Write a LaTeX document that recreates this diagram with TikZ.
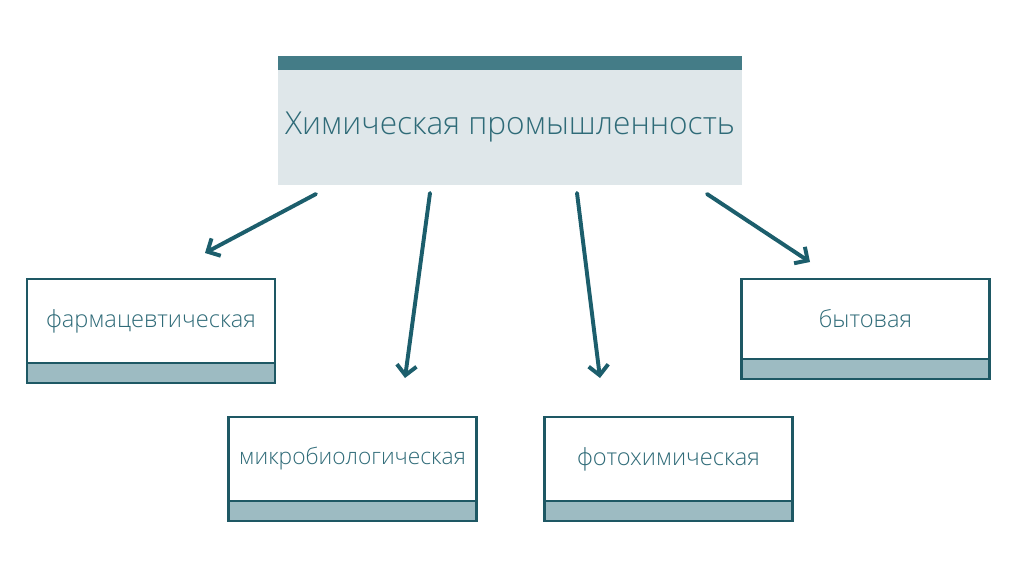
\documentclass[tikz,border=0pt]{standalone}
\usepackage{fontspec}
\setmainfont{Open Sans Light}
\usepackage{tikz}
\usetikzlibrary{arrows.meta,positioning}
\definecolor{HeadBar}{RGB}{68,124,135}
\definecolor{HeadFill}{RGB}{223,231,234}
\definecolor{BoxLine}{RGB}{30,88,100}
\definecolor{BarFill}{RGB}{157,187,194}
\definecolor{LabelTeal}{RGB}{47,107,120}
\definecolor{ArrowTeal}{RGB}{28,94,108}

\begin{document}
\begin{tikzpicture}[
    header/.style={rectangle, fill=HeadFill, minimum width=11.6cm,
                   minimum height=2.875cm, inner sep=0pt, outer sep=0pt, align=center,
                   font=\fontsize{22.5}{27}\selectfont, text=LabelTeal},
    headbar/.style={rectangle, fill=HeadBar, minimum width=11.6cm,
                    minimum height=0.35cm, inner sep=0pt, outer sep=0pt},
    branch/.style={rectangle, draw=BoxLine, fill=white, line width=1.6pt,
                   minimum width=6.2cm, minimum height=2.1cm, inner sep=0pt,
                   outer sep=0pt, align=center,
                   font=\fontsize{16.8}{20}\selectfont, text=LabelTeal},
    branchbar/.style={rectangle, draw=BoxLine, fill=BarFill, line width=1.6pt,
                      minimum width=6.2cm, minimum height=0.5cm, inner sep=0pt,
                      outer sep=0pt},
    arr/.style={-{Straight Barb[length=7pt, width=14pt]}, line width=2.8pt,
                line cap=round, line join=round, ArrowTeal}
  ]
    \useasboundingbox (0,0) rectangle (25.6,-14.35);

    \node[header] (chem) at (12.75,-3.1875) {Химическая промышленность};
    \node[headbar, above=0pt of chem] (chembar) {};

    \node[branch] (pharm) at (3.775,-8.025) {фармацевтическая};
    \node[branchbar, below=0pt of pharm] (pharmbar) {};

    \node[branch, minimum height=2.0cm] (home) at (21.6375,-7.975) {бытовая};
    \node[branchbar, below=0pt of home] (homebar) {};

    \node[branch, font=\fontsize{16.2}{20}\selectfont] (micro) at (8.8125,-11.475) {микробиологическая};
    \node[branchbar, below=0pt of micro] (microbar) {};

    \node[branch] (photo) at (16.7125,-11.475) {фотохимическая};
    \node[branchbar, below=0pt of photo] (photobar) {};

    \coordinate (s1) at (7.9,-4.85);
    \coordinate (e1) at (5.125,-6.325);
    \coordinate (s2) at (10.75,-4.825);
    \coordinate (e2) at (10.125,-9.45);
    \coordinate (s3) at (14.425,-4.825);
    \coordinate (e3) at (15.0,-9.45);
    \coordinate (s4) at (17.675,-4.85);
    \coordinate (e4) at (20.25,-6.55);

    \draw[arr] (s1) -- (e1);
    \draw[arr] (s2) -- (e2);
    \draw[arr] (s3) -- (e3);
    \draw[arr] (s4) -- (e4);
  \end{tikzpicture}
\end{document}
